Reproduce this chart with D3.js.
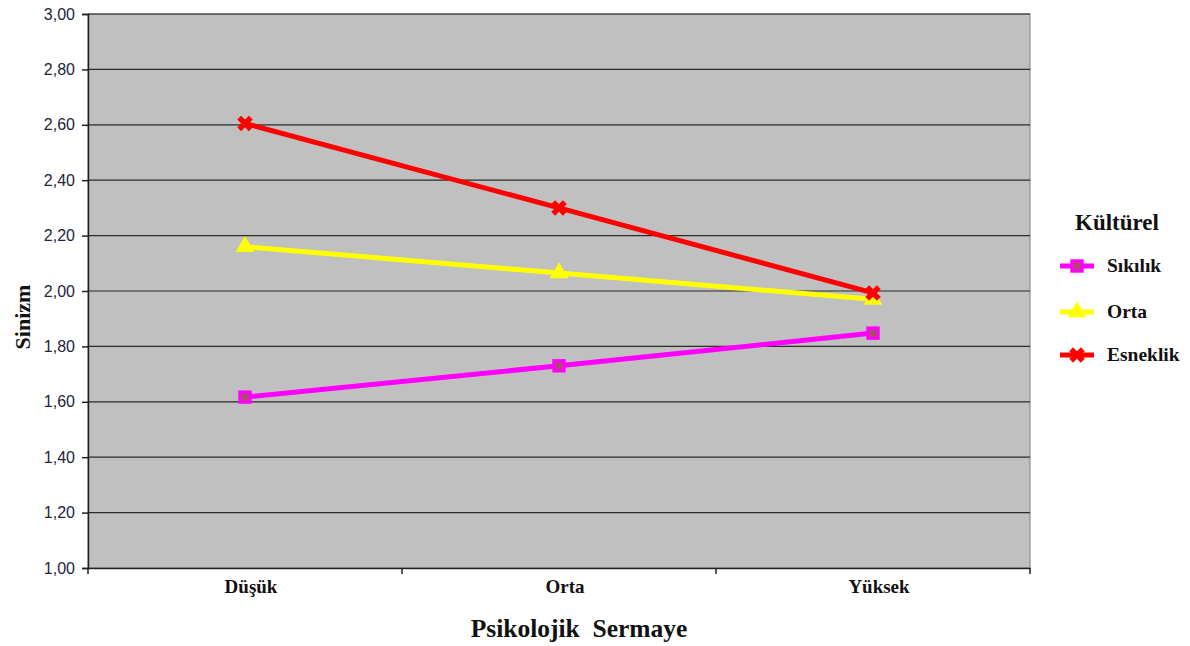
<!DOCTYPE html>
<html>
<head>
<meta charset="utf-8">
<script src="https://cdn.jsdelivr.net/npm/d3@7"></script>
<style>
body { margin: 0; background: #fff; }
</style>
</head>
<body>
<div id="chart"></div>
<script>
var categories = ['Düşük', 'Orta', 'Yüksek'];
var seriesNames = ['Sıkılık', 'Orta', 'Esneklik'];
var sikilik = [1.617, 1.73, 1.848];
var orta = [2.16, 2.065, 1.97];
var esneklik = [2.605, 2.30, 1.993];
var yTicks = [1.0, 1.2, 1.4, 1.6, 1.8, 2.0, 2.2, 2.4, 2.6, 2.8, 3.0];

var svgWidth = 1190;
var svgHeight = 646;
var margin = { top: 14, left: 88, right: 160, bottom: 78 };
var chartWidth = 942;
var chartHeight = 554;

var colors = ['#ff00ff', '#ffff00', '#ff0000'];
var allSeries = [sikilik, orta, esneklik];

var svg = d3.select('#chart').append('svg')
	.attr('width', svgWidth)
	.attr('height', svgHeight);

var chartGroup = svg.append('g')
	.attr('transform', `translate(${margin.left}, ${margin.top})`);

var xScale = d3.scaleBand()
	.domain(categories)
	.range([0, chartWidth]);

var yScale = d3.scaleLinear()
	.domain([1, 3])
	.range([chartHeight, 0]);

// plot background
chartGroup.append('rect')
	.attr('width', chartWidth)
	.attr('height', chartHeight)
	.attr('fill', '#c0c0c0')
	.attr('stroke', '#808080')
	.attr('stroke-width', 1);

// gridlines
chartGroup.append('g')
	.selectAll('line')
	.data(yTicks.slice(1))
	.enter()
	.append('line')
	.attr('x1', 0)
	.attr('x2', chartWidth)
	.attr('y1', d => yScale(d))
	.attr('y2', d => yScale(d))
	.attr('stroke', '#2b2b2b')
	.attr('stroke-width', 1.2);

// y axis
var leftAxis = d3.axisLeft(yScale)
	.tickValues(yTicks)
	.tickSize(6)
	.tickPadding(7)
	.tickFormat(d => d3.format('.2f')(d).replace('.', ','));

var yAxis = chartGroup.append('g').call(leftAxis);
yAxis.select('.domain').attr('stroke', '#222').attr('stroke-width', 1.5);
yAxis.selectAll('.tick line').attr('stroke', '#222').attr('stroke-width', 1.5);
yAxis.selectAll('.tick text')
	.attr('font-family', 'Liberation Sans, Arial, sans-serif')
	.attr('font-size', '16px')
	.attr('fill', '#23233a');

// x axis
var bottomAxis = d3.axisBottom(xScale)
	.tickSize(0)
	.tickPadding(12);

var xAxis = chartGroup.append('g')
	.attr('transform', `translate(0, ${chartHeight})`)
	.call(bottomAxis);
xAxis.select('.domain').attr('stroke', '#222').attr('stroke-width', 1.5);
xAxis.selectAll('.tick text')
	.attr('dx', 6)
	.attr('font-family', 'Liberation Serif, Times New Roman, serif')
	.attr('font-weight', 'bold')
	.attr('font-size', '19px')
	.attr('fill', '#111');

// category separator ticks
chartGroup.append('g')
	.selectAll('line')
	.data(categories.concat(['end']))
	.enter()
	.append('line')
	.attr('x1', (d, i) => i * xScale.bandwidth())
	.attr('x2', (d, i) => i * xScale.bandwidth())
	.attr('y1', chartHeight)
	.attr('y2', chartHeight + 6)
	.attr('stroke', '#222')
	.attr('stroke-width', 1.5);

// axis titles
svg.append('text')
	.attr('x', margin.left + chartWidth / 2 + 20)
	.attr('y', 637)
	.attr('text-anchor', 'middle')
	.attr('font-family', 'Liberation Serif, Times New Roman, serif')
	.attr('font-weight', 'bold')
	.attr('font-size', '25.5px')
	.attr('fill', '#111')
	.attr('xml:space', 'preserve')
	.text('Psikolojik  Sermaye');

svg.append('text')
	.attr('transform', 'translate(30, 317) rotate(-90)')
	.attr('text-anchor', 'middle')
	.attr('font-family', 'Liberation Serif, Times New Roman, serif')
	.attr('font-weight', 'bold')
	.attr('font-size', '22px')
	.attr('fill', '#111')
	.text('Sinizm');

// markers
var symbolTypes = [d3.symbolSquare, d3.symbolTriangle, d3.symbolCross];
var symbolSizes = [180, 150, 150];
var symbolRotate = [0, 0, 45];

function drawMarker(g, i) {
	g.append('path')
		.attr('d', d3.symbol().type(symbolTypes[i]).size(symbolSizes[i]))
		.attr('transform', `rotate(${symbolRotate[i]})`)
		.attr('fill', colors[i]);
	if (i == 0) {
		g.append('rect')
			.attr('x', -3.5).attr('y', -3.5)
			.attr('width', 7).attr('height', 7)
			.attr('fill', '#b04a6a');
	}
}

var line = d3.line()
	.x((d, i) => xScale(categories[i]) + xScale.bandwidth() / 2)
	.y(d => yScale(d));

allSeries.forEach(function(values, i) {
	chartGroup.append('path')
		.datum(values)
		.attr('d', line)
		.attr('fill', 'none')
		.attr('stroke', colors[i])
		.attr('stroke-width', 5);
});

allSeries.forEach(function(values, i) {
	values.forEach(function(v, j) {
		var g = chartGroup.append('g')
			.attr('transform', `translate(${xScale(categories[j]) + xScale.bandwidth() / 2}, ${yScale(v)})`);
		drawMarker(g, i);
	});
});

// legend
var legend = svg.append('g');
legend.append('text')
	.attr('x', 1117)
	.attr('y', 230)
	.attr('text-anchor', 'middle')
	.attr('font-family', 'Liberation Serif, Times New Roman, serif')
	.attr('font-weight', 'bold')
	.attr('font-size', '23px')
	.attr('fill', '#111')
	.text('Kültürel');

var legendY = [266, 312, 355];
seriesNames.forEach(function(name, i) {
	var item = legend.append('g')
		.attr('transform', `translate(1060, ${legendY[i]})`);
	item.append('line')
		.attr('x1', 0).attr('x2', 34)
		.attr('stroke', colors[i])
		.attr('stroke-width', 5);
	var m = item.append('g').attr('transform', 'translate(17, 0)');
	drawMarker(m, i);
	item.append('text')
		.attr('x', 47)
		.attr('y', 6)
		.attr('font-family', 'Liberation Serif, Times New Roman, serif')
		.attr('font-weight', 'bold')
		.attr('font-size', '19.5px')
		.attr('fill', '#111')
		.text(name);
});
</script>
</body>
</html>
